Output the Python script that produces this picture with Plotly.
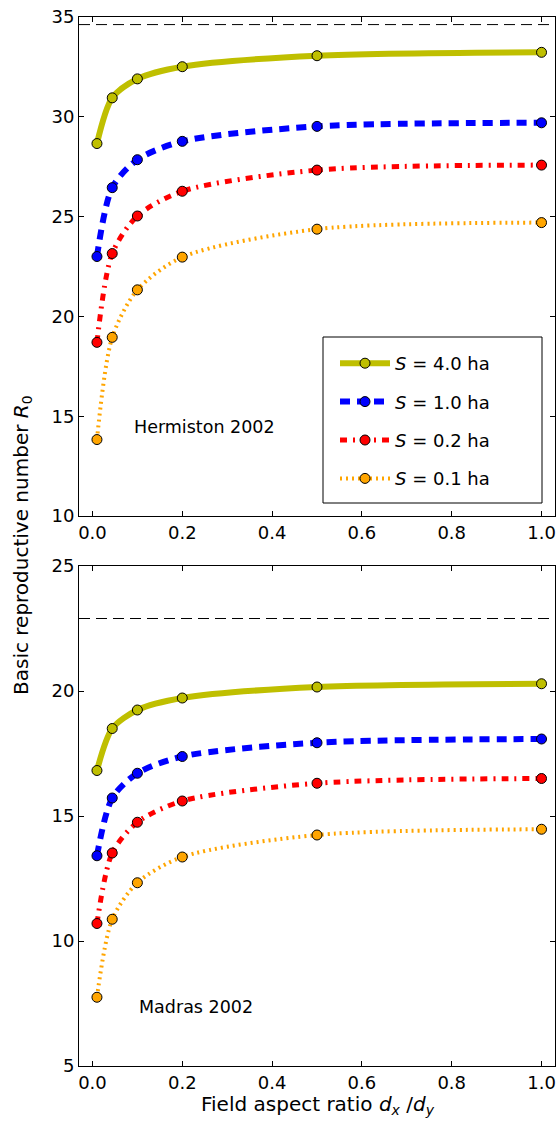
import plotly.graph_objects as go

# ---- data ----
aspect = [0.01, 0.044, 0.1, 0.2, 0.5, 1.0]
series_names = ["<i>S</i> = 4.0 ha", "<i>S</i> = 1.0 ha", "<i>S</i> = 0.2 ha", "<i>S</i> = 0.1 ha"]

herm_s40 = [28.66, 30.95, 31.90, 32.51, 33.06, 33.23]
herm_s10 = [23.00, 26.45, 27.85, 28.77, 29.52, 29.70]
herm_s02 = [18.70, 23.15, 25.03, 26.27, 27.33, 27.58]
herm_s01 = [13.83, 18.95, 21.33, 22.97, 24.37, 24.70]
herm_limit = 34.62

madr_s40 = [16.82, 18.50, 19.24, 19.72, 20.16, 20.29]
madr_s10 = [13.41, 15.72, 16.71, 17.38, 17.93, 18.08]
madr_s02 = [10.70, 13.52, 14.75, 15.60, 16.31, 16.50]
madr_s01 = [7.75, 10.87, 12.33, 13.36, 14.24, 14.47]
madr_limit = 22.90

x_ticks = [0.0, 0.2, 0.4, 0.6, 0.8, 1.0]
x_ticklabels = ["0.0", "0.2", "0.4", "0.6", "0.8", "1.0"]
top_yticks = [10, 15, 20, 25, 30, 35]
bot_yticks = [5, 10, 15, 20, 25]

# ---- styles ----
colors = ["#bfbf00", "#0000ff", "#ff0000", "#ffa500"]
widths = [6, 6, 5, 4]
dashes = ["solid", "10px,7px", "7px,6px,2px,6px", "2px,4px"]

FONT = "DejaVu Sans"
W, H = 557, 1129
L, R, T, B = 79, 2, 17, 63
plot_h = H - T - B
plot_w = W - L - R


def px_x(p):
    return (p - L) / plot_w


def px_y(p):
    return (H - B - p) / plot_h


fig = go.Figure()

top_data = [herm_s40, herm_s10, herm_s02, herm_s01]
bot_data = [madr_s40, madr_s10, madr_s02, madr_s01]

for i, (name, ys) in enumerate(zip(series_names, top_data)):
    fig.add_trace(go.Scatter(
        x=aspect, y=ys, name=name, mode="lines+markers",
        line=dict(color=colors[i], width=widths[i], dash=dashes[i], shape="spline", smoothing=0.8),
        marker=dict(size=10, color=colors[i], line=dict(color="black", width=1)),
        xaxis="x", yaxis="y", legendgroup=f"g{i}", showlegend=True,
    ))
for i, (name, ys) in enumerate(zip(series_names, bot_data)):
    fig.add_trace(go.Scatter(
        x=aspect, y=ys, name=name, mode="lines+markers",
        line=dict(color=colors[i], width=widths[i], dash=dashes[i], shape="spline", smoothing=0.8),
        marker=dict(size=10, color=colors[i], line=dict(color="black", width=1)),
        xaxis="x2", yaxis="y2", legendgroup=f"g{i}", showlegend=False,
    ))

top_dom = [px_y(516), 1.0]
bot_dom = [0.0, px_y(566)]

axis_common = dict(
    showline=True, linecolor="black", linewidth=1, mirror="allticks",
    ticks="inside", ticklen=5, tickcolor="black", showgrid=False, zeroline=False,
    tickfont=dict(family=FONT, size=18, color="black"),
)

fig.update_layout(
    width=W, height=H,
    margin=dict(l=L, r=R, t=T, b=B),
    paper_bgcolor="white", plot_bgcolor="white",
    font=dict(family=FONT, size=18, color="black"),
    xaxis=dict(domain=[0, 1], anchor="y", range=[-0.03, 1.03],
               tickvals=x_ticks, ticktext=x_ticklabels, **axis_common),
    yaxis=dict(domain=top_dom, anchor="x", range=[10, 35],
               tickvals=top_yticks, **axis_common),
    xaxis2=dict(domain=[0, 1], anchor="y2", range=[-0.03, 1.03],
                tickvals=x_ticks, ticktext=x_ticklabels, **axis_common),
    yaxis2=dict(domain=bot_dom, anchor="x2", range=[5, 25],
                tickvals=bot_yticks, **axis_common),
    showlegend=True,
    legend=dict(
        x=px_x(335), y=px_y(345), xanchor="left", yanchor="top",
        borderwidth=0, bgcolor="rgba(255,255,255,0)",
        font=dict(family=FONT, size=18, color="black"),
        itemwidth=50, tracegroupgap=12,
    ),
    shapes=[
        dict(type="line", xref="x domain", yref="y", x0=0, x1=1, y0=herm_limit, y1=herm_limit,
             line=dict(color="black", width=1, dash="11px,6px")),
        dict(type="line", xref="x2 domain", yref="y2", x0=0, x1=1, y0=madr_limit, y1=madr_limit,
             line=dict(color="black", width=1, dash="11px,6px")),
        dict(type="rect", xref="paper", yref="paper",
             x0=px_x(323), x1=px_x(542), y0=px_y(503), y1=px_y(337),
             line=dict(color="black", width=1), fillcolor="white", layer="below"),
    ],
    annotations=[
        dict(text="Hermiston 2002", x=0.088, y=14.47, xref="x", yref="y",
             xanchor="left", yanchor="middle", showarrow=False,
             font=dict(family=FONT, size=17.5, color="black")),
        dict(text="Madras 2002", x=0.099, y=7.38, xref="x2", yref="y2",
             xanchor="left", yanchor="middle", showarrow=False,
             font=dict(family=FONT, size=17.5, color="black")),
        dict(text="Basic reproductive number <i>R</i><sub>0</sub>", textangle=-90,
             x=px_x(22), y=px_y(545), xref="paper", yref="paper",
             xanchor="center", yanchor="middle", showarrow=False,
             font=dict(family=FONT, size=20, color="black")),
        dict(text="Field aspect ratio <i>d<sub>x</sub></i> /<i>d<sub>y</sub></i>",
             x=px_x(318), y=px_y(1105), xref="paper", yref="paper",
             xanchor="center", yanchor="middle", showarrow=False,
             font=dict(family=FONT, size=20, color="black")),
    ],
)

fig.write_html("out.html", config={"displayModeBar": False},
               post_script="document.body.style.margin='0';")
